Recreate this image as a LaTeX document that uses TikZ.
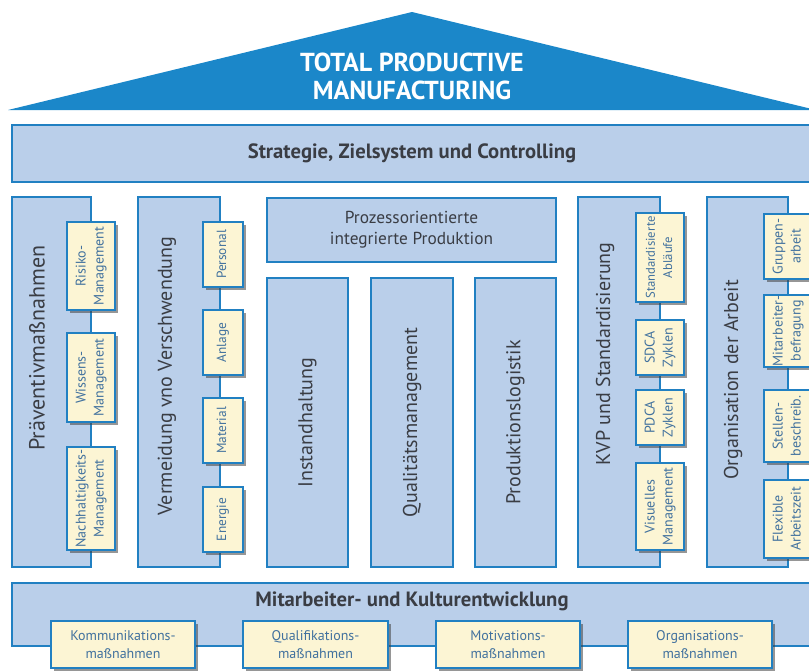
\documentclass[tikz,border=0pt]{standalone}
\usepackage{fontspec}
\setmainfont{PT Sans}
\usepackage{graphicx}
\usepackage{xcolor}
\usetikzlibrary{shadows}

\definecolor{roofblue}{HTML}{1B87C9}
\definecolor{edgeblue}{HTML}{2180C2}
\definecolor{boxblue}{HTML}{BACFEA}
\definecolor{cream}{HTML}{FCF5D4}
\definecolor{tiletext}{HTML}{41719E}
\definecolor{maintext}{HTML}{3A3D44}

\newcommand{\vlab}[1]{\rotatebox{90}{\begin{tabular}{@{}c@{}}#1\end{tabular}}}

\begin{document}
\begin{tikzpicture}[x=0.75pt,y=-0.75pt,
  box size/.style 2 args={minimum width=#1*0.75pt, minimum height=#2*0.75pt},
  pillar/.style={draw=edgeblue, line width=1.5pt, fill=boxblue, inner sep=0pt},
  tile/.style={draw=edgeblue, line width=1.2pt, fill=cream, inner sep=0pt,
    text=tiletext, font=\fontsize{10.5}{13.5}\selectfont,
    drop shadow={shadow xshift=2pt, shadow yshift=-2pt, fill=black!75, opacity=0.55}},
  coltitle/.style={rotate=90, text=maintext, font=\fontsize{15}{18}\selectfont},
  bartitle/.style={text=maintext, font=\fontsize{15.5}{18}\selectfont\bfseries}]
\clip (0,0) rectangle (809,671);

% Dach
\path[fill=roofblue] (8,110) -- (412,12) -- (816,110) -- cycle;
\node[text=white, align=center, font=\fontsize{19.5}{21}\selectfont\bfseries] (tpm) at (412,76) {TOTAL PRODUCTIVE\\MANUFACTURING};

\node[pillar, box size={800}{57}] (strat) at (412,153.5) {};
\node[bartitle] (stratt) at (412,153.5) {Strategie, Zielsystem und Controlling};

% Saeulen
\node[pillar, box size={79}{370}] (praev) at (51.5,382) {};
\node[coltitle, font=\fontsize{16.5}{18}\selectfont] (praevt) at (37,348) {Präventivmaßnahmen};
\node[tile, box size={48}{88}] (risiko) at (91,266) {\vlab{Risiko-\\Management}};
\node[tile, box size={48}{89}] (wissen) at (91,377.5) {\vlab{Wissens-\\Management}};
\node[tile, box size={48}{103}] (nachh) at (91,498.5) {\vlab{Nachhaltigkeits-\\Management}};

\node[pillar, box size={82}{370}] (verm) at (179,382) {};
\node[coltitle] (vermt) at (167,376) {Vermeidung vno Verschwendung};
\node[tile, box size={40}{65}, font=\fontsize{10}{12}\selectfont] (personal) at (223,254.5) {\vlab{Personal}};
\node[tile, box size={40}{65}, font=\fontsize{10}{12}\selectfont] (anlage) at (223,342.5) {\vlab{Anlage}};
\node[tile, box size={40}{65}, font=\fontsize{10}{12}\selectfont] (material) at (223,430.5) {\vlab{Material}};
\node[tile, box size={40}{65}, font=\fontsize{10}{12}\selectfont] (energie) at (223,519.5) {\vlab{Energie}};

\node[pillar, box size={289}{64}, align=center, text=maintext, font=\fontsize{13}{16}\selectfont] (pip) at (411.5,230) {Prozessorientierte\\integrierte Produktion};
\node[pillar, box size={81}{289}] (instand) at (307.5,422.5) {};
\node[coltitle] (instandt) at (307.5,422.5) {Instandhaltung};
\node[pillar, box size={82}{289}] (quali) at (412,422.5) {};
\node[coltitle] (qualit) at (412,422.5) {Qualitätsmanagement};
\node[pillar, box size={81}{289}] (logistik) at (515.5,422.5) {};
\node[coltitle] (logistikt) at (515.5,422.5) {Produktionslogistik};

\node[pillar, box size={82}{370}] (kvp) at (619,382) {};
\node[coltitle] (kvpt) at (605,354) {KVP und Standardisierung};
\node[tile, box size={48}{89}, font=\fontsize{9.5}{13}\selectfont] (sa) at (660,257.5) {\vlab{Standardisierte\\Abläufe}};
\node[tile, box size={48}{55}] (sdca) at (660,347.5) {\vlab{SDCA\\Zyklen}};
\node[tile, box size={48}{55}] (pdca) at (660,417.5) {\vlab{PDCA\\Zyklen}};
\node[tile, box size={48}{87}] (visuell) at (660,506.5) {\vlab{Visuelles\\Management}};

\node[pillar, box size={81}{370}] (orga) at (747.5,382) {};
\node[coltitle] (orgat) at (733,380) {Organisation der Arbeit};
\node[tile, box size={48}{65}] (gruppe) at (788,246.5) {\vlab{Gruppen-\\arbeit}};
\node[tile, box size={48}{72}] (befragung) at (788,331) {\vlab{Mitarbeiter-\\befragung}};
\node[tile, box size={48}{72}] (stelle) at (788,426) {\vlab{Stellen-\\beschreib.}};
\node[tile, box size={48}{78}] (flexibel) at (788,519) {\vlab{Flexible\\Arbeitszeit}};

% Fundament
\node[pillar, box size={800}{63}] (kultur) at (412,614.5) {};
\node[bartitle] (kulturt) at (412,601) {Mitarbeiter- und Kulturentwicklung};
\node[tile, box size={144}{47}, align=center, font=\fontsize{10.5}{13}\selectfont] (komm) at (123,644.5) {Kommunikations-\\maßnahmen};
\node[tile, box size={145}{47}, align=center, font=\fontsize{10.5}{13}\selectfont] (qualif) at (315.5,644.5) {Qualifikations-\\maßnahmen};
\node[tile, box size={144}{47}, align=center, font=\fontsize{10.5}{13}\selectfont] (motiv) at (508,644.5) {Motivations-\\maßnahmen};
\node[tile, box size={144}{47}, align=center, font=\fontsize{10.5}{13}\selectfont] (organis) at (700,644.5) {Organisations-\\maßnahmen};

\end{tikzpicture}
\end{document}
